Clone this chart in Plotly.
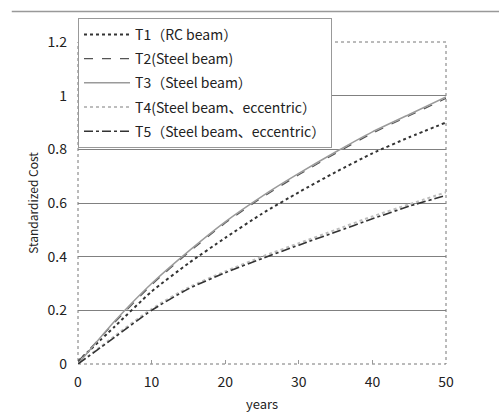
import plotly.graph_objects as go

years = [0, 5, 10, 15, 20, 25, 30, 35, 40, 45, 50]
t1_rc = [0.01, 0.14, 0.27, 0.375, 0.47, 0.56, 0.64, 0.715, 0.785, 0.845, 0.90]
t2_steel = [0.01, 0.155, 0.295, 0.415, 0.525, 0.62, 0.705, 0.785, 0.86, 0.925, 0.99]
t3_steel = [0.0, 0.16, 0.30, 0.42, 0.53, 0.625, 0.71, 0.79, 0.865, 0.93, 0.995]
t4_ecc = [0.0, 0.105, 0.205, 0.285, 0.345, 0.40, 0.45, 0.50, 0.55, 0.595, 0.64]
t5_ecc = [0.0, 0.10, 0.20, 0.28, 0.34, 0.393, 0.443, 0.492, 0.541, 0.588, 0.628]

series_names = [
    "T1（RC beam）",
    "T2(Steel beam)",
    "T3（Steel beam）",
    "T4(Steel beam、eccentric）",
    "T5（Steel beam、eccentric）",
]
x_ticks = [0, 10, 20, 30, 40, 50]
y_ticks = [0, 0.2, 0.4, 0.6, 0.8, 1, 1.2]
y_tick_text = ["0", "0.2", "0.4", "0.6", "0.8", "1", "1.2"]

FONT = "Noto Sans CJK JP"

styles = [
    dict(color="#333333", dash="dot", width=2),
    dict(color="#555555", dash="dash", width=1.2),
    dict(color="#9a9a9a", dash="solid", width=1.5),
    dict(color="#bdbdbd", dash="dot", width=2),
    dict(color="#333333", dash="dashdot", width=1.6),
]
values = [t1_rc, t2_steel, t3_steel, t4_ecc, t5_ecc]

fig = go.Figure()
for i, (name, vals, st) in enumerate(zip(series_names, values, styles)):
    fig.add_trace(go.Scatter(
        x=years, y=vals, mode="lines", name=name,
        line=dict(shape="spline", smoothing=0.6, **st),
        legendgroup=f"g{i}",
    ))

# dotted frame around the plotting area
fig.add_shape(type="rect", xref="paper", yref="paper", x0=0, x1=1, y0=0, y1=1,
              line=dict(color="#777777", width=1, dash="dot"), layer="below")
# rule across the top of the page
fig.add_shape(type="line", xref="paper", yref="paper", x0=-0.18, x1=1.15,
              y0=1.095, y1=1.095, line=dict(color="#999999", width=1.5))

fig.update_layout(
    width=499, height=415,
    margin=dict(l=78, r=53, t=42, b=51),
    paper_bgcolor="white", plot_bgcolor="white",
    font=dict(family=FONT, size=13, color="#222222"),
    showlegend=True,
    legend=dict(
        x=0, y=1.075, xanchor="left", yanchor="top",
        bgcolor="white", bordercolor="#999999", borderwidth=1,
        font=dict(family=FONT, size=14, color="#222222"),
        tracegroupgap=3, traceorder="grouped", itemwidth=46,
    ),
    xaxis=dict(
        range=[0, 50], tickvals=x_ticks, ticks="inside", ticklen=4,
        tickcolor="#999999", showgrid=False, zeroline=False, showline=False,
        ticklabelstandoff=8, automargin=False,
        title=dict(text="years", standoff=9, font=dict(size=13)),
        tickfont=dict(size=14),
    ),
    yaxis=dict(
        range=[0, 1.2], tickvals=y_ticks, ticktext=y_tick_text,
        showgrid=True, gridcolor="#808080", gridwidth=1, zeroline=False,
        showline=False, ticks="", ticklabelstandoff=10, automargin=False,
        title=dict(text="Standardized Cost", standoff=6, font=dict(size=12)),
        tickfont=dict(size=14),
    ),
)

fig.write_html("out.html")
